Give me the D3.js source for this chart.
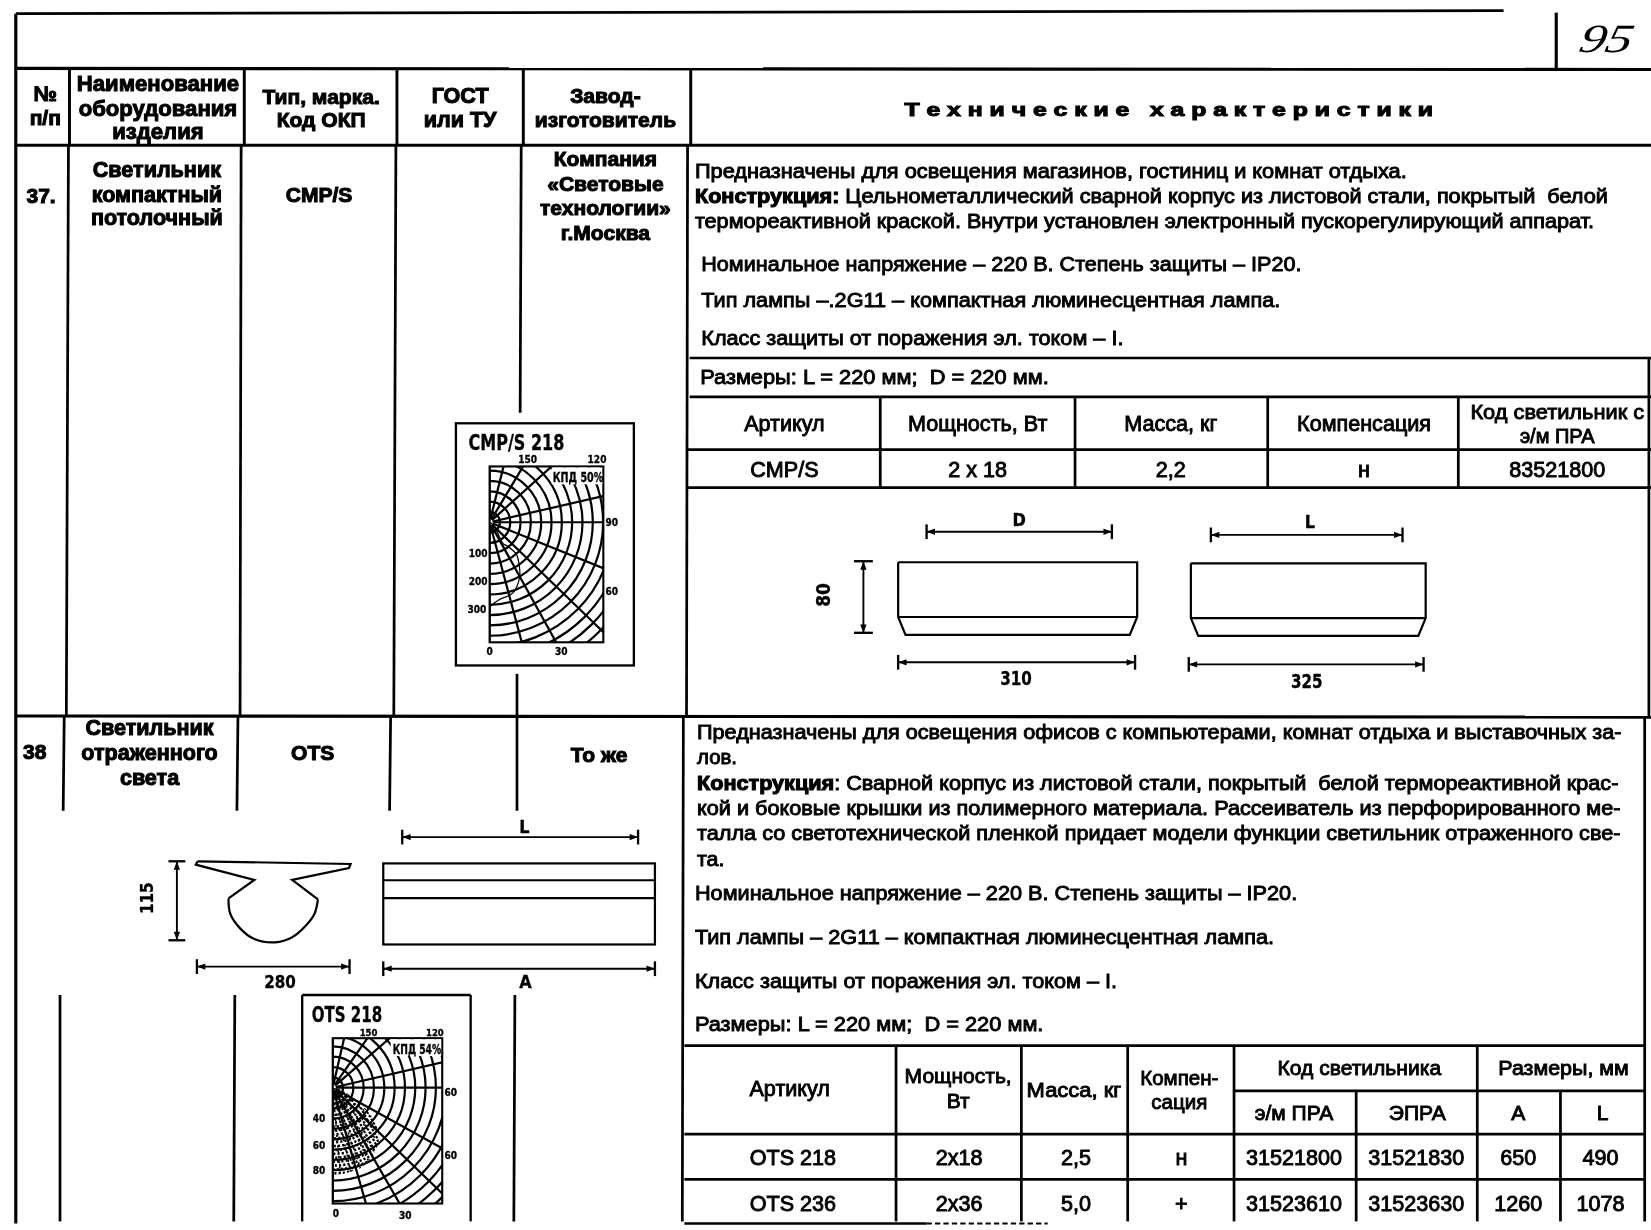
<!DOCTYPE html>
<html>
<head>
<meta charset="utf-8">
<script src="https://cdnjs.cloudflare.com/ajax/libs/d3/7.8.5/d3.min.js"></script>
<style>
body {margin:0; background:#fff;}
text {font-family:"Liberation Sans",Arial,sans-serif; fill:#000;}
.hd {font-weight:700; stroke:#000; stroke-width:1;}
.tx {stroke:#000; stroke-width:.85;}
.dr {font-family:"DejaVu Sans Condensed","DejaVu Sans",sans-serif; font-weight:700; stroke:#000; stroke-width:.3;}
</style>
</head>
<body>
<div id="page"></div>
<script>
/////////////
//Data Etc.
/////////////

//page table header
var headNum = ['№','п/п']
var headName = ['Наименование','оборудования','изделия']
var headType = ['Тип, марка.','Код ОКП']
var headGost = ['ГОСТ','или ТУ']
var headMaker = ['Завод-','изготовитель']
var headTech = 'Т е х н и ч е с к и е   х а р а к т е р и с т и к и'

//item 37
var name37 = ['Светильник','компактный','потолочный']
var maker37 = ['Компания','«Световые','технологии»','г.Москва']
var cols37 = ['Артикул','Мощность, Вт','Масса, кг','Компенсация']
var row37 = ['CMP/S','2 x 18','2,2','н','83521800']

//item 38
var name38 = ['Светильник','отраженного','света']
var rows38 = [
  ['OTS 218','2x18','2,5','н','31521800','31521830','650','490'],
  ['OTS 236','2x36','5,0','+','31523610','31523630','1260','1078']
]
var subCols38 = ['э/м ПРА','ЭПРА','А','L']

//polar diagrams: ray angles (0 = down, 180 = up)
var raysCmp = [0,15,29,46,68,90,103,132,149,166,180]
var raysOts = [0,16,30,46,61,90,103,131,145,167,180]
//light curves [angle, candela]
var curveCmp = [[0,290],[7,268],[18,256],[29,213],[36,170],[40,142],[36,100],[32,86],[50,20],[60,0]]
var curveOts = [[0,82],[10,80],[22,78],[32,72],[42,64],[50,52],[60,30],[75,8],[0,0]]

//////////////
//Page setup
//////////////
var W = 1651, H = 1230
var k = W/1568   //layout below is measured on the 1568 wide view

var svg = d3.select('#page').append('svg')
  .attr('width', W).attr('height', H)
svg.append('rect').attr('width', W).attr('height', H).attr('fill', '#fff')

var defs = svg.append('defs')
defs.append('filter').attr('id', 'scan')
  .append('feGaussianBlur').attr('stdDeviation', 0.45)

var root = svg.append('g')
  .attr('transform', `scale(${k})`)
  .attr('filter', 'url(#scan)')

//////////////
//Helpers
//////////////
function label(str, x, y, size, cls, anchor, width) {
  var t = root.append('text')
    .attr('x', x).attr('y', y)
    .attr('font-size', size)
    .attr('class', cls || 'tx')
    .attr('text-anchor', anchor || 'start')
    .text(str)
  if (width) t.attr('textLength', width).attr('lengthAdjust', 'spacingAndGlyphs')
  return t
}

function stack(lines, x, ys, size, cls) {
  lines.forEach(function(s, i) {label(s, x, ys[i], size, cls, 'middle')})
}

function rule(x1, y1, x2, y2, w, dash) {
  root.append('line')
    .attr('x1', x1).attr('y1', y1).attr('x2', x2).attr('y2', y2)
    .attr('stroke', '#000').attr('stroke-width', w || 2.6)
    .attr('stroke-dasharray', dash || null)
}

//dimension line with end caps and arrow heads
function dim(x1, y1, x2, y2, cap) {
  var vert = x1 === x2
  rule(x1, y1, x2, y2, 1.8)
  var c = cap || 7
  if (vert) {
    rule(x1-c, y1, x1+c, y1, 2.2)
    rule(x2-c, y2, x2+c, y2, 2.2)
  } else {
    rule(x1, y1-c, x1, y1+c, 2.2)
    rule(x2, y2-c, x2, y2+c, 2.2)
  }
  var heads = vert
    ? [[[x1,y1],[x1-3,y1+8],[x1+3,y1+8]], [[x2,y2],[x2-3,y2-8],[x2+3,y2-8]]]
    : [[[x1,y1],[x1+8,y1-3],[x1+8,y1+3]], [[x2,y2],[x2-8,y2-3],[x2-8,y2+3]]]
  root.selectAll(null).data(heads).enter().append('path')
    .attr('d', d => d3.line()(d)+'Z').attr('fill', '#000')
}

function polar(id, c) {
  var r = d3.scaleLinear().domain(c.domain).range([0, c.rMax])
  var rad = a => (180-a)*Math.PI/180
  var clip = defs.append('clipPath').attr('id', id)
  clip.append('rect').attr('x', c.left).attr('y', c.top)
    .attr('width', c.right-c.left).attr('height', c.bottom-c.top)

  var g = root.append('g').attr('clip-path', `url(#${id})`)
  var o = g.append('g').attr('transform', `translate(${c.left},${c.cy})`)

  var gridVals = d3.range(1, 19).map(i => r.invert(i*9.8))
  o.selectAll('circle').data(gridVals).enter().append('circle')
    .attr('r', d => r(d)).attr('fill', 'none')
    .attr('stroke', '#000').attr('stroke-width', 2.1)

  o.selectAll('path.ray').data(c.rays).enter().append('path')
    .attr('class', 'ray')
    .attr('d', a => d3.lineRadial()([[rad(a), 3], [rad(a), 300]]))
    .attr('stroke', '#000').attr('stroke-width', 2.1).attr('fill', 'none')

  var curve = d3.lineRadial()
    .angle(d => rad(d[0]))
    .radius(d => r(d[1]))
    .curve(d3.curveCatmullRom)

  if (c.filled) {
    //speckled area under the curve
    var cid = id+'c'
    defs.append('clipPath').attr('id', cid)
      .attr('transform', `translate(${c.left},${c.cy})`)
      .append('path').attr('d', curve(c.curve))
    var sp = g.append('g').attr('clip-path', `url(#${cid})`)
      .append('g').attr('transform', `translate(${c.left},${c.cy})`)
    sp.selectAll('circle').data(d3.range(1, 24)).enter().append('circle')
      .attr('r', d => d*3.7).attr('fill', 'none')
      .attr('stroke', '#000').attr('stroke-width', 2.4)
      .attr('stroke-dasharray', '2 2')
    sp.selectAll('path').data(d3.range(5, 90, 7)).enter().append('path')
      .attr('d', a => d3.lineRadial()([[rad(a), 0], [rad(a), 100]]))
      .attr('stroke', '#000').attr('stroke-width', 1.5).attr('stroke-dasharray', '2 3')
  } else {
    o.append('path').attr('d', curve(c.curve))
      .attr('fill', 'none').attr('stroke', '#000').attr('stroke-width', 1.2)
  }

  //plot frame
  root.append('rect').attr('x', c.left).attr('y', c.top)
    .attr('width', c.right-c.left).attr('height', c.bottom-c.top)
    .attr('fill', 'none').attr('stroke', '#000').attr('stroke-width', 2)
  //room for the efficiency note
  root.append('rect').attr('x', c.noteX-1).attr('y', c.top+1)
    .attr('width', c.right-c.noteX).attr('height', 16).attr('fill', '#fff')
}

//////////////
//Table rules
//////////////
rule(15, 13, 1428, 10, 2.6)
rule(15, 13, 15, 1162, 3)
rule(15, 65, 1568, 66, 3)
rule(15, 138, 1568, 138, 2.8)
rule(1478, 12, 1478, 65, 3)

//header columns
var headEdges = [66,232,377,497,656]
headEdges.forEach(x => rule(x, 65, x, 138, 2.8))

//row 37 columns
rule(65, 138, 63, 680); rule(229, 138, 228, 680); rule(376, 138, 374, 680)
rule(495, 138, 494, 392); rule(491, 640, 491, 770)
rule(653, 138, 652, 680)
rule(15, 680, 1568, 681, 3)

//row 38 columns
rule(61, 680, 60, 770); rule(226, 680, 225, 770); rule(371, 680, 370, 770)
rule(649, 680, 648, 1160)
rule(57, 945, 57, 1160); rule(223, 945, 222, 1160); rule(489, 945, 488, 1160)

//table 37
rule(655, 340, 1568, 340); rule(655, 377, 1568, 377)
rule(653, 427, 1568, 427); rule(653, 463, 1568, 463)
var edges37 = [836,1021,1204,1385]
edges37.forEach(x => rule(x, 377, x, 463))
rule(1566, 340, 1566, 680, 2.6)

//table 38
rule(650, 993, 1562, 993); rule(650, 1077, 1562, 1077); rule(650, 1120, 1562, 1120)
rule(1172, 1036, 1562, 1036)
rule(650, 1162, 880, 1162, 2.4); rule(880, 1162, 995, 1162, 2, '5 3')
var edges38a = [851,970,1071,1172,1403]
edges38a.forEach(x => rule(x, 993, x, 1160))
var edges38b = [1288,1482]
edges38b.forEach(x => rule(x, 1036, x, 1160))
rule(1562, 681, 1562, 1160, 2.6)

//////////////
//Header text
//////////////
stack(headNum, 43, [96,119], 20, 'hd')
stack(headName, 150, [86,110,132], 21, 'hd')
stack(headType, 305, [99,121], 20, 'hd')
stack(headGost, 437, [98,121], 20.5, 'hd')
stack(headMaker, 575, [98,121], 20, 'hd')
label(headTech, 859, 110, 17, 'hd', 'start', 502).style('white-space', 'pre')

//////////////
//Row 37
//////////////
label('37.', 39, 193, 20, 'hd', 'middle')
stack(name37, 149, [168,192,214], 20.5, 'hd')
label('CMP/S', 303, 192, 20, 'hd', 'middle')
stack(maker37, 575, [158,181,204,228], 20, 'hd')

label('Предназначены для освещения магазинов, гостиниц и комнат отдыха.', 660, 169, 18.5, 'tx', 'start', 676)
var c1 = label('', 660, 193, 18.5, 'tx', 'start', 867).style('white-space', 'pre')
c1.append('tspan').attr('class', 'hd').text('Конструкция:')
c1.append('tspan').text(' Цельнометаллический сварной корпус из листовой стали, покрытый  белой')
label('термореактивной краской. Внутри установлен электронный пускорегулирующий аппарат.', 660, 217, 18.5, 'tx', 'start', 854)
label('Номинальное напряжение – 220 В. Степень защиты – IP20.', 666, 257, 19.5, 'tx', 'start', 570)
label('Тип лампы –.2G11 – компактная люминесцентная лампа.', 666, 292, 19.5, 'tx', 'start', 550)
label('Класс защиты от поражения эл. током – I.', 666, 328, 19.5, 'tx', 'start', 401)
label('Размеры: L = 220 мм;  D = 220 мм.', 665, 365, 19.5, 'tx', 'start', 331).style('white-space', 'pre')

var x37 = d3.scalePoint().domain(d3.range(5)).range([745,1479])
cols37.forEach((s, i) => label(s, x37(i), 409, 20.5, 'tx', 'middle'))
label('Код светильник с', 1479, 398, 19, 'tx', 'middle', 165)
label('э/м ПРА', 1479, 421, 19, 'tx', 'middle')
row37.forEach((s, i) => label(s, x37(i), 453, 20.5, 'tx', 'middle'))

//////////////
//Row 38
//////////////
label('38', 33, 721, 20, 'hd', 'middle')
stack(name38, 142, [698,722,746], 20.5, 'hd')
label('OTS', 297, 722, 20, 'hd', 'middle')
label('То же', 569, 724, 20, 'hd', 'middle')

label('Предназначены для освещения офисов с компьютерами, комнат отдыха и выставочных за-', 662, 702, 18.5, 'tx', 'start', 878)
label('лов.', 662, 726, 18.5, 'tx', 'start', 38)
var c2 = label('', 662, 750, 18.5, 'tx', 'start', 875).style('white-space', 'pre')
c2.append('tspan').attr('class', 'hd').text('Конструкция')
c2.append('tspan').text(': Сварной корпус из листовой стали, покрытый  белой термореактивной крас-')
label('кой и боковые крышки из полимерного материала. Рассеиватель из перфорированного ме-', 662, 774, 18.5, 'tx', 'start', 877)
label('талла со светотехнической пленкой придает модели функции светильник отраженного све-', 662, 798, 18.5, 'tx', 'start', 877)
label('та.', 662, 822, 18.5, 'tx', 'start', 26)
label('Номинальное напряжение – 220 В. Степень защиты – IP20.', 660, 855, 19.5, 'tx', 'start', 572)
label('Тип лампы – 2G11 – компактная люминесцентная лампа.', 660, 897, 19.5, 'tx', 'start', 550)
label('Класс защиты от поражения эл. током – I.', 660, 938, 19.5, 'tx', 'start', 401)
label('Размеры: L = 220 мм;  D = 220 мм.', 660, 979, 19.5, 'tx', 'start', 331).style('white-space', 'pre')

label('Артикул', 750, 1041, 20.5, 'tx', 'middle')
stack(['Мощность,','Вт'], 910, [1029,1052], 20, 'tx')
label('Масса, кг', 1020, 1042, 19, 'tx', 'middle', 90)
stack(['Компен-','сация'], 1120, [1030,1053], 19.5, 'tx')
label('Код светильника', 1291, 1021, 20, 'tx', 'middle')
label('Размеры, мм', 1485, 1021, 19, 'tx', 'middle', 124)
var xSub = [1229,1346,1442,1522]
subCols38.forEach((s, i) => label(s, xSub[i], 1064, 20, 'tx', 'middle'))

var x38 = [753,911,1022,1122,1229,1345,1442,1520]
rows38.forEach(function(row, j) {
  row.forEach((s, i) => label(s, x38[i], j ? 1150 : 1106, 20.5, 'tx', 'middle'))
})

//////////////
//Drawings 37
//////////////
function lamp(x1, x2, top, mid, bottom, inset) {
  root.append('path')
    .attr('d', d3.line()([[x1,top],[x2,top],[x2,mid],[x2-inset,bottom],[x1+inset,bottom],[x1,mid],[x1,top]]))
    .attr('fill', 'none').attr('stroke', '#000').attr('stroke-width', 2.1)
  rule(x1, mid, x2, mid, 2.1)
}
lamp(853, 1080, 534, 586, 603, 7)
lamp(1131, 1354, 535, 587, 604, 7)
dim(880, 505, 1056, 505, 7)
dim(1150, 508, 1332, 508, 7)
dim(820, 533, 820, 601, 9)
dim(853, 629, 1078, 629, 7)
dim(1129, 631, 1352, 631, 7)
label('D', 968, 500, 17, 'dr', 'middle')
label('L', 1244, 501, 17, 'dr', 'middle')
label('310', 965, 651, 18, 'dr', 'middle', 30)
label('325', 1241, 653, 18, 'dr', 'middle', 30)
label('80', 0, 0, 18, 'dr', 'middle').attr('transform', 'translate(788,565) rotate(-90)')

//CMP diagram
root.append('rect').attr('x', 433).attr('y', 402).attr('width', 169).attr('height', 230)
  .attr('fill', 'none').attr('stroke', '#000').attr('stroke-width', 2.2)
label('CMP/S 218', 445, 427, 20, 'dr', 'start', 91)
polar('cmp', {left:465, right:573, top:443, bottom:610, cy:496, domain:[0,300], rMax:83,
  rays:raysCmp, curve:curveCmp, filled:false, noteX:525})
label('150', 501, 440, 9.5, 'dr', 'middle')
label('120', 567, 440, 9.5, 'dr', 'middle')
label('КПД 50%', 549, 458, 13, 'dr', 'middle', 48)
label('90', 581, 500, 9.5, 'dr', 'middle')
label('60', 581, 565, 9.5, 'dr', 'middle')
label('100', 454, 529, 9.5, 'dr', 'middle')
label('200', 454, 556, 9.5, 'dr', 'middle')
label('300', 453, 582, 9.5, 'dr', 'middle')
label('0', 465, 622, 9.5, 'dr', 'middle')
label('30', 533, 622, 9.5, 'dr', 'middle')

//////////////
//Drawings 38
//////////////
//profile, in a 540 wide crop
var px = d3.scaleLinear().domain([190,640]).range([186,333])
var py = d3.scaleLinear().domain([155,395]).range([818,895])
var outline = [[195,155],[640,163],[635,175],[470,210],[545,268]]
var belly = [[545,268],[535,310],[510,345],[470,380],[420,395],[360,385],[320,355],[290,310],[285,265]]
var outline2 = [[285,265],[360,210],[190,165],[195,155]]
var pLine = d3.line().x(d => px(d[0])).y(d => py(d[1]))
;[outline, outline2].forEach(function(p) {
  root.append('path').attr('d', pLine(p))
    .attr('fill', 'none').attr('stroke', '#000').attr('stroke-width', 2.1)
})
root.append('path').attr('d', pLine.curve(d3.curveCatmullRom)(belly))
  .attr('fill', 'none').attr('stroke', '#000').attr('stroke-width', 2.1)

root.append('rect').attr('x', 364).attr('y', 820).attr('width', 258).attr('height', 77)
  .attr('fill', 'none').attr('stroke', '#000').attr('stroke-width', 2.1)
rule(364, 836, 622, 836, 2.1)
rule(364, 853, 622, 853, 2.1)
dim(382, 795, 606, 795, 7)
dim(364, 920, 622, 920, 7)
dim(187, 918, 332, 918, 7)
dim(168, 818, 168, 893, 8)
label('L', 498, 791, 17, 'dr', 'middle')
label('A', 499, 938, 17, 'dr', 'middle')
label('280', 266, 938, 17, 'dr', 'middle', 30)
label('115', 0, 0, 17, 'dr', 'middle', 30).attr('transform', 'translate(145,853) rotate(-90)')

//OTS diagram
rule(287, 945, 447, 945, 2.2)
rule(287, 945, 287, 1160, 2.2)
rule(447, 945, 447, 1160, 2.2)
label('OTS 218', 296, 971, 20, 'dr', 'start', 67)
polar('ots', {left:316, right:420, top:986, bottom:1143, cy:1033, domain:[0,80], rMax:82,
  rays:raysOts, curve:curveOts, filled:true, noteX:372})
label('150', 350, 984, 9, 'dr', 'middle')
label('120', 413, 984, 9, 'dr', 'middle')
label('КПД 54%', 396, 1001, 12.5, 'dr', 'middle', 46)
label('60', 428, 1041, 9.5, 'dr', 'middle')
label('60', 428, 1101, 9.5, 'dr', 'middle')
label('40', 303, 1066, 9.5, 'dr', 'middle')
label('60', 303, 1091, 9.5, 'dr', 'middle')
label('80', 303, 1115, 9.5, 'dr', 'middle')
label('0', 319, 1156, 9.5, 'dr', 'middle')
label('30', 385, 1158, 9.5, 'dr', 'middle')

//page number, written by hand
root.append('text')
  .attr('transform', 'translate(1498,49) skewX(-14)')
  .attr('font-size', 38)
  .attr('textLength', 50)
  .attr('lengthAdjust', 'spacingAndGlyphs')
  .style('font-family', '"Liberation Serif",serif')
  .style('font-style', 'italic')
  .attr('fill', '#000')
  .text('95')
</script>
</body>
</html>
